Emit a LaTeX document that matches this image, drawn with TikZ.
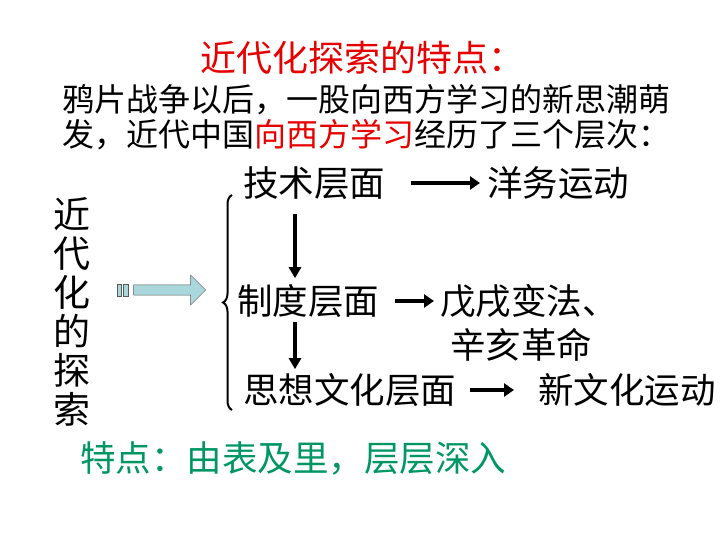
\documentclass[tikz,border=0pt]{standalone}
\usepackage{fontspec}
\newfontfamily\cjk{Noto Sans CJK SC}
\usetikzlibrary{positioning,arrows.meta,shapes.arrows,decorations.pathreplacing}
\definecolor{titlered}{RGB}{230,0,0}
\definecolor{pointgreen}{RGB}{0,150,100}
\definecolor{arrowfill}{RGB}{170,215,220}
\newcommand{\fs}[1]{\fontsize{#1}{#1}\selectfont}
\begin{document}
\begin{tikzpicture}[x=1pt,y=-1pt,
    every node/.style={inner sep=0pt, font=\cjk},
    level/.style={font=\cjk\fs{35.5}, anchor=west},
    linkarrow/.style={line width=4pt, -{Triangle[length=10pt,width=13pt]}},
    downarrow/.style={line width=3.5pt, -{Triangle[length=11pt,width=12pt]}}]
    \useasboundingbox (0,0) rectangle (720,540);
    % heading
    \node[text=titlered, font=\cjk\fs{36}] (title) at (362,58) {近代化探索的特点：};
    \node[font=\cjk\fs{32}, anchor=west] (line1) at (62,100) {鸦片战争以后，一股向西方学习的新思潮萌};
    \node[font=\cjk\fs{32}, anchor=west] (line2) at (62,135) {发，近代中国\textcolor{titlered}{向西方学习}经历了三个层次：};
    % left column
    \node[font=\cjk\fs{37}, align=center] (explore) at (72,312)
        {近\\[2pt]代\\[2pt]化\\[2pt]的\\[2pt]探\\[2pt]索};
    \node[single arrow, draw=gray!70!black, fill=arrowfill, minimum height=72pt,
        minimum width=30pt, single arrow head extend=8pt, inner sep=4pt] (block) at (167,290) {};
    \draw[gray!70!black, fill=arrowfill] (117,284) rectangle (121,296) (123,284) rectangle (128,296);
    \draw[line width=2pt, decorate, decoration={brace, amplitude=9pt, mirror}]
        (232,195) coordinate (btop) -- (232,410) coordinate (bbot);
    % levels
    \node[level] (tech) at (243,183) {技术层面};
    \node[level] (yangwu) at (487,183) {洋务运动};
    \node[level] (system) at (237,301) {制度层面};
    \node[level] (wuxu) at (440,301) {戊戌变法、};
    \node[level] (xinhai) at (450,345) {辛亥革命};
    \node[level] (thought) at (243,390) {思想文化层面};
    \node[level] (newcult) at (538,390) {新文化运动};
    \draw[linkarrow] ([xshift=26pt]tech.east) -- ([xshift=-7pt]yangwu.west);
    \draw[linkarrow] ([xshift=16pt]system.east) -- ([xshift=-6pt]wuxu.west);
    \draw[linkarrow] ([xshift=14pt]thought.east) -- ([xshift=-24pt]newcult.west);
    \draw[downarrow] ([xshift=52pt,yshift=-14pt]tech.south west) -- ([xshift=58pt,yshift=6pt]system.north west);
    \draw[downarrow] ([xshift=58pt,yshift=-4pt]system.south west) -- ([xshift=52pt,yshift=4pt]thought.north west);
    % summary
    \node[text=pointgreen, font=\cjk\fs{35.5}, anchor=west] (summary) at (80,458) {特点：由表及里，层层深入};
\end{tikzpicture}
\end{document}
